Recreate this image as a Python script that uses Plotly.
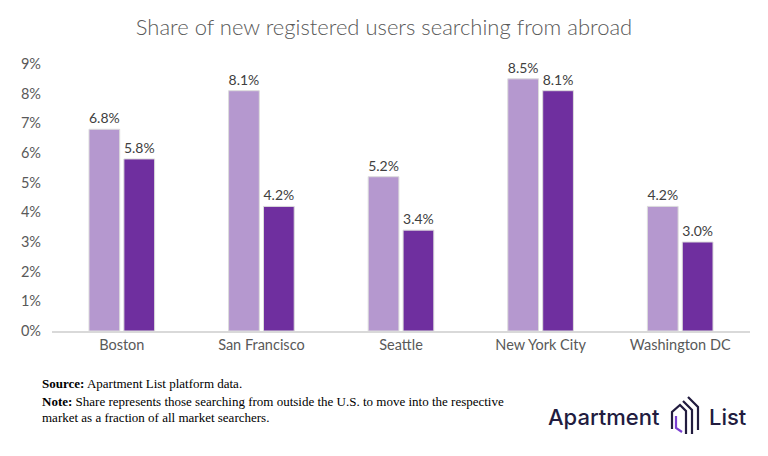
import plotly.graph_objects as go

# share of new registered users searching from abroad, in %
cities = ["Boston", "San Francisco", "Seattle", "New York City", "Washington DC"]
share_first = [6.8, 8.1, 5.2, 8.5, 4.2]
share_second = [5.8, 4.2, 3.4, 8.1, 3.0]
y_ticks = [0, 1, 2, 3, 4, 5, 6, 7, 8, 9]
y_tick_text = [f"{v}%" for v in y_ticks]

LIGHT = "#b598cf"
DARK = "#6f2f9f"
GREY = "#595959"

W, H = 768, 456
L, R, T, B = 52, 18, 64, 125


def px_x(x):
    return (x - L) / (W - L - R)


def px_y(y):
    return (H - B - y) / (H - T - B)


fig = go.Figure()
for vals, col, nm in [(share_first, LIGHT, "first"), (share_second, DARK, "second")]:
    fig.add_trace(go.Bar(
        x=cities, y=vals, name=nm,
        marker=dict(color=col, line=dict(color="#dcdcdc", width=1)),
        text=vals, texttemplate="%{y:.1f}%", textposition="outside",
        textfont=dict(family="Lato", size=14, color="#404040"),
        cliponaxis=False,
    ))

fig.update_layout(
    width=W, height=H,
    margin=dict(l=L, r=R, t=T, b=B),
    paper_bgcolor="white", plot_bgcolor="white",
    barmode="group", bargap=0.5, bargroupgap=0.12,
    showlegend=False,
    title=dict(text="Share of new registered users searching from abroad",
               x=0.5, xref="container", y=1 - 27 / H, yanchor="middle",
               font=dict(family="Lato", size=22, color=GREY, weight=300)),
    font=dict(family="Lato", color=GREY),
)
fig.update_xaxes(showline=True, linecolor="#d9d9d9", linewidth=1.5,
                 tickfont=dict(family="Lato", size=14.5, color=GREY), ticks="")
fig.update_yaxes(range=[0, 9], tickvals=y_ticks, ticktext=y_tick_text, showgrid=False,
                 zeroline=False, tickfont=dict(family="Lato", size=14.5, color=GREY),
                 ticklabelstandoff=10)

# footnote
notes = [
    (383, "<b>Source:</b> Apartment List platform data."),
    (401, "<b>Note:</b> Share represents those searching from outside the U.S. to move into the respective"),
    (417, "market as a fraction of all market searchers."),
]
for yy, txt in notes:
    fig.add_annotation(text=txt, xref="paper", yref="paper", x=px_x(40), y=px_y(yy),
                       xanchor="left", yanchor="middle", showarrow=False,
                       font=dict(family="Liberation Serif", size=13, color="black"))

# logo
NAVY = "#221c3f"
fig.add_annotation(text="Apartment", xref="paper", yref="paper", x=px_x(662), y=px_y(417),
                   xanchor="right", yanchor="middle", showarrow=False,
                   font=dict(family="Inter", size=22, color=NAVY, weight=500))
fig.add_annotation(text="List", xref="paper", yref="paper", x=px_x(707), y=px_y(417),
                   xanchor="left", yanchor="middle", showarrow=False,
                   font=dict(family="Inter", size=22, color=NAVY, weight=500))


def path(pts):
    s = "M " + " L ".join(f"{px_x(a):.5f},{px_y(b):.5f}" for a, b in pts)
    return s


logo_lines = [
    ([(672, 429), (672, 412), (680, 405), (686, 411), (686, 434)], NAVY),
    ([(683, 401), (692, 410), (692, 434)], NAVY),
    ([(688, 397), (698, 407), (698, 430)], NAVY),
    ([(676, 416), (676, 428), (682, 432)], "#7a3fd1"),
]
for pts, col in logo_lines:
    fig.add_shape(type="path", path=path(pts), xref="paper", yref="paper",
                  line=dict(color=col, width=2.2))

fig.write_html("out.html", config={"displayModeBar": False},
               post_script="document.body.style.margin='0';")
